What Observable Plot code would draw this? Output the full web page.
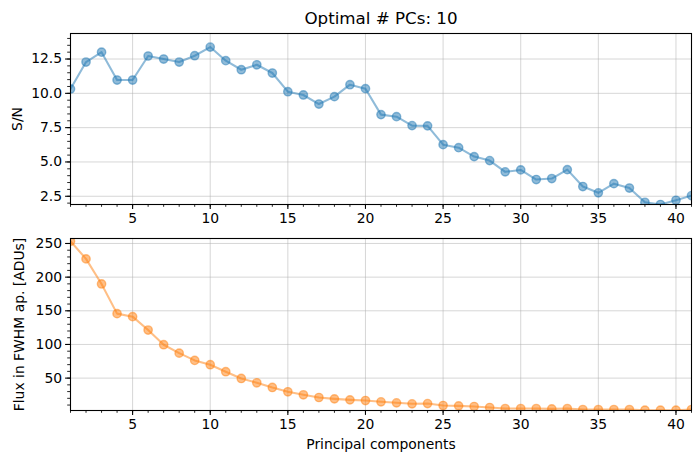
<!DOCTYPE html>
<html><head><meta charset="utf-8">
<script src="https://cdn.jsdelivr.net/npm/d3@7"></script>
<script src="https://cdn.jsdelivr.net/npm/@observablehq/plot@0.6"></script>
<style>
body{margin:0;background:#fff}
#c{position:relative;width:700px;height:463px;font-family:"DejaVu Sans"}
#c svg{position:absolute;left:0}
</style>
</head><body><div id="c"></div>
<script>
const pcs = [1,2,3,4,5,6,7,8,9,10,11,12,13,14,15,16,17,18,19,20,21,22,23,24,25,26,27,28,29,30,31,32,33,34,35,36,37,38,39,40,41];
const snr = [10.32,12.28,13.0,10.97,10.97,12.72,12.5,12.28,12.74,13.37,12.38,11.72,12.08,11.48,10.12,9.88,9.22,9.76,10.63,10.34,8.45,8.30,7.65,7.63,6.26,6.04,5.39,5.10,4.28,4.42,3.72,3.79,4.44,3.21,2.75,3.42,3.10,2.06,1.90,2.21,2.55];
const flux = [253.4,227.1,189.9,145.8,141.3,121.4,99.6,87.1,76.3,69.9,59.5,49.5,43.1,36.1,29.7,25.2,21.2,19.2,17.7,16.7,14.8,13.3,11.8,12.2,9.3,8.8,7.8,6.3,4.8,4.8,4.8,4.3,4.8,3.3,3.3,3.3,3.3,2.3,2.3,2.3,3.3];
const xMajor = [5,10,15,20,25,30,35,40];
const xMinor = pcs;
const snrTicks = [2.5,5.0,7.5,10.0,12.5];
const snrMinor = [2.0,2.5,3.0,3.5,4.0,4.5,5.0,5.5,6.0,6.5,7.0,7.5,8.0,8.5,9.0,9.5,10.0,10.5,11.0,11.5,12.0,12.5,13.0,13.5,14.0];
const fluxTicks = [50,100,150,200,250];
const fluxMinor = [10,20,30,40,50,60,70,80,90,100,110,120,130,140,150,160,170,180,190,200,210,220,230,240,250];
const title = "Optimal # PCs: 10";
const xLabel = "Principal components";
const snrLabel = "S/N";
const fluxLabel = "Flux in FWHM ap. [ADUs]";

const topData = pcs.map((p,i)=>({p, v: snr[i]}));
const botData = pcs.map((p,i)=>({p, v: flux[i]}));

const FS = 13.9;
function panel({data, color, yDomain, yTicks, yMinor, yFmt, height, mt, mb, yLabel, ydx, extra}) {
  return Plot.plot({
    width: 700, height,
    marginLeft: 70, marginRight: 9, marginTop: mt, marginBottom: mb,
    style: {fontFamily: "DejaVu Sans", color: "black", background: "white", overflow: "visible"},
    x: {domain: [1, 41]},
    y: {domain: yDomain},
    marks: [
      Plot.gridX(xMajor, {stroke: "#b0b0b0", strokeOpacity: 0.5, strokeWidth: 1}),
      Plot.gridY(yTicks, {stroke: "#b0b0b0", strokeOpacity: 0.5, strokeWidth: 1}),
      Plot.line(data, {x: "p", y: "v", stroke: color, strokeOpacity: 0.5, strokeWidth: 2.08, clip: true}),
      Plot.dot(data, {x: "p", y: "v", r: 4.17, fill: color, fillOpacity: 0.5, stroke: color, strokeOpacity: 0.5, strokeWidth: 1.39, clip: true}),
      Plot.axisX({ticks: xMajor, tickSize: 4.9, tickPadding: 3.5, fontSize: FS, strokeWidth: 1.1, label: null, tickFormat: d => String(d)}),
      Plot.axisX({ticks: xMinor, tickSize: 2.8, text: null, label: null, strokeWidth: 0.85}),
      Plot.axisY({ticks: yTicks, tickSize: 4.9, tickPadding: 3.5, fontSize: FS, strokeWidth: 1.1, label: null, tickFormat: yFmt}),
      Plot.axisY({ticks: yMinor.filter(t => t >= yDomain[0] && t <= yDomain[1]), tickSize: 2.8, text: null, label: null, strokeWidth: 0.85}),
      Plot.frame({stroke: "black", strokeWidth: 1.1}),
      Plot.text([yLabel], {frameAnchor: "left", dx: ydx, rotate: -90, text: d => d, fontSize: FS, fill: "black", textAnchor: "middle", lineAnchor: "middle"}),
      ...extra
    ]
  });
}

const host = document.getElementById("c");
const topPlot = panel({
  data: topData, color: "#1f77b4", yDomain: [1.9, 14.36], yTicks: snrTicks, yMinor: snrMinor,
  yFmt: d3.format(".1f"), height: 232, mt: 33, mb: 28, yLabel: snrLabel, ydx: -53,
  extra: [Plot.text([title], {frameAnchor: "top", dy: -15, text: d => d, fontSize: 16.7, fill: "black", lineAnchor: "middle"})]
});
topPlot.style.top = "0px";
host.appendChild(topPlot);
const botPlot = panel({
  data: botData, color: "#ff7f0e", yDomain: [1.9, 257.4], yTicks: fluxTicks, yMinor: fluxMinor,
  yFmt: d => String(d), height: 231, mt: 6, mb: 53, yLabel: fluxLabel, ydx: -51,
  extra: [Plot.text([xLabel], {frameAnchor: "bottom", dy: 34, text: d => d, fontSize: FS, fill: "black", lineAnchor: "middle"})]
});
botPlot.style.top = "232px";
host.appendChild(botPlot);
</script>
</body></html>
